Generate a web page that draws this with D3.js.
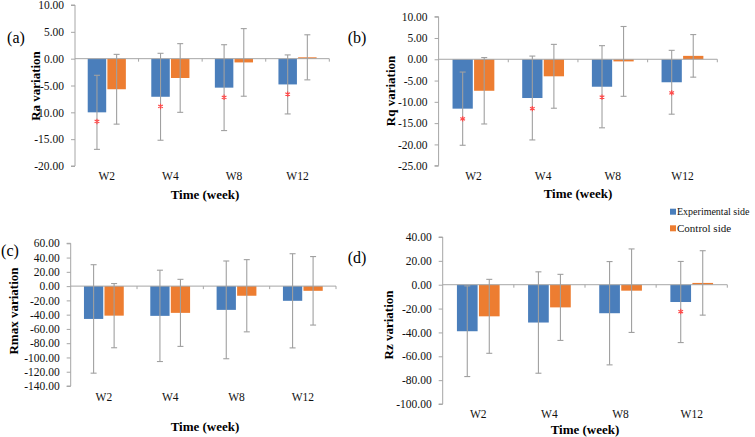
<!DOCTYPE html>
<html>
<head>
<meta charset="utf-8">
<script src="https://cdn.jsdelivr.net/npm/d3@7"></script>
<style>
  html, body { margin: 0; padding: 0; background: #fff; }
  svg { display: block; }
</style>
</head>
<body>
<svg id="chart" width="755" height="437"></svg>
<script>
// ---------- data ----------
const categories = ["W2", "W4", "W8", "W12"];
const seriesNames = ["Experimental side", "Control side"];

const raExp = [-10.0, -7.1, -5.4, -4.8];
const raExpErr = [6.9, 8.1, 8.0, 5.5];
const raCtl = [-5.7, -3.6, -0.7, 0.25];
const raCtlErr = [6.5, 6.4, 6.3, 4.2];
const raStar = [-11.7, -8.9, -7.2, -6.6];

const rqExp = [-11.6, -9.1, -6.45, -5.4];
const rqExpErr = [8.6, 9.85, 9.65, 7.5];
const rqCtl = [-7.4, -4.0, -0.5, 0.8];
const rqCtlErr = [7.8, 7.5, 8.2, 5.0];
const rqStar = [-14.0, -11.6, -8.9, -7.9];

const rmaxExp = [-46, -41.7, -33.3, -20.6];
const rmaxExpErr = [76, 64, 68.5, 66];
const rmaxCtl = [-41.4, -37.5, -13.5, -6.6];
const rmaxCtlErr = [45, 47, 50.6, 48];
const rmaxStar = [null, null, null, null];

const rzExp = [-39, -31.7, -23.9, -14.5];
const rzExpErr = [38, 42.5, 43.3, 34];
const rzCtl = [-26.5, -19, -5, 1.5];
const rzCtlErr = [31, 27.7, 35, 27];
const rzStar = [null, null, null, -22.5];

const raTicks = [10, 5, 0, -5, -10, -15, -20];
const rqTicks = [10, 5, 0, -5, -10, -15, -20, -25];
const rmaxTicks = [60, 40, 20, 0, -20, -40, -60, -80, -100, -120, -140];
const rzTicks = [40, 20, 0, -20, -40, -60, -80, -100];

// ---------- layout ----------
const FONT = '"Liberation Serif", Times';
const colors = { exp: "#4a7ebb", ctl: "#ed7d31" };
const errColor = "#a0a0a0";
const axisColor = "#a6a6a6";

const panels = [
  { tag: "(a)", title: "Ra variation", exp: raExp, expErr: raExpErr, ctl: raCtl, ctlErr: raCtlErr, star: raStar, ticks: raTicks,
    x0: 75, x1: 329.3, yTop: 5, yBot: 166, tagX: 16, tagY: 37, ttlX: 35, ttlY: 86, catY: 176, xTtlX: 205, xTtlY: 194 },
  { tag: "(b)", title: "Rq variation", exp: rqExp, expErr: rqExpErr, ctl: rqCtl, ctlErr: rqCtlErr, star: rqStar, ticks: rqTicks,
    x0: 438.6, x1: 717.3, yTop: 16.7, yBot: 165.7, tagX: 357, tagY: 37, ttlX: 390, ttlY: 91, catY: 175.5, xTtlX: 578, xTtlY: 193 },
  { tag: "(c)", title: "Rmax variation", exp: rmaxExp, expErr: rmaxExpErr, ctl: rmaxCtl, ctlErr: rmaxCtlErr, star: rmaxStar, ticks: rmaxTicks,
    x0: 70.7, x1: 336, yTop: 243.3, yBot: 386, tagX: 10, tagY: 250, ttlX: 13, ttlY: 311, catY: 397, xTtlX: 205, xTtlY: 426 },
  { tag: "(d)", title: "Rz variation", exp: rzExp, expErr: rzExpErr, ctl: rzCtl, ctlErr: rzCtlErr, star: rzStar, ticks: rzTicks,
    x0: 442.7, x1: 727.3, yTop: 237, yBot: 404, tagX: 357, tagY: 257, ttlX: 388, ttlY: 325, catY: 414, xTtlX: 585, xTtlY: 429 }
];

const svg = d3.select("#chart");

panels.forEach(p => {
  const g = svg.append("g");
  const y = d3.scaleLinear()
    .domain([d3.max(p.ticks), d3.min(p.ticks)])
    .range([p.yTop, p.yBot]);
  const x = d3.scaleBand().domain(categories).range([p.x0, p.x1]).padding(0);
  const bw = x.bandwidth();
  const sub = d3.scaleBand().domain(["exp", "ctl"])
    .range([-bw * 0.3, bw * 0.3]).paddingInner(0.06);

  // y axis
  const yAxis = d3.axisLeft(y).tickValues(p.ticks).tickSize(4).tickPadding(7)
    .tickFormat(d => d.toFixed(2));
  const ya = g.append("g").attr("transform", `translate(${p.x0},0)`).call(yAxis);
  ya.attr("font-family", null).attr("font-size", null);
  ya.select(".domain").attr("stroke", axisColor).attr("d", `M-4,${p.yTop}H0V${p.yBot}H-4`);
  ya.selectAll(".tick line").attr("stroke", axisColor);
  ya.selectAll(".tick text").attr("fill", "#111").style("font-size", "11.5px")
    .style("font-family", FONT);

  const rows = categories.map((c, i) => ({
    c,
    exp: p.exp[i], expErr: p.expErr[i],
    ctl: p.ctl[i], ctlErr: p.ctlErr[i],
    star: p.star[i]
  }));

  // bars
  ["exp", "ctl"].forEach(k => {
    g.selectAll(null).data(rows).enter().append("rect")
      .attr("x", d => x(d.c) + bw / 2 + sub(k))
      .attr("width", sub.bandwidth())
      .attr("y", d => y(Math.max(0, d[k])))
      .attr("height", d => Math.abs(y(d[k]) - y(0)))
      .attr("fill", colors[k]);
  });

  // zero line with category ticks
  g.append("line").attr("x1", p.x0).attr("x2", p.x1)
    .attr("y1", y(0)).attr("y2", y(0)).attr("stroke", axisColor).attr("stroke-width", 1);
  categories.forEach(c => {
    const bx = x(c) + bw;
    g.append("line").attr("x1", bx).attr("x2", bx)
      .attr("y1", y(0)).attr("y2", y(0) + 3).attr("stroke", axisColor);
  });

  // error bars
  ["exp", "ctl"].forEach(k => {
    const eg = g.selectAll(null).data(rows).enter().append("g")
      .attr("stroke", errColor).attr("stroke-width", 1.1);
    const cx = d => x(d.c) + bw / 2 + sub(k) + sub.bandwidth() / 2;
    eg.append("line").attr("x1", cx).attr("x2", cx)
      .attr("y1", d => y(d[k] + d[k + "Err"])).attr("y2", d => y(d[k] - d[k + "Err"]));
    eg.append("line").attr("x1", d => cx(d) - 3).attr("x2", d => cx(d) + 3)
      .attr("y1", d => y(d[k] + d[k + "Err"])).attr("y2", d => y(d[k] + d[k + "Err"]));
    eg.append("line").attr("x1", d => cx(d) - 3).attr("x2", d => cx(d) + 3)
      .attr("y1", d => y(d[k] - d[k + "Err"])).attr("y2", d => y(d[k] - d[k + "Err"]));
  });

  // significance asterisks
  const sym = d3.symbol().type(d3.symbolAsterisk).size(20);
  g.selectAll(null).data(rows.filter(d => d.star !== null)).enter().append("path")
    .attr("d", sym)
    .attr("transform", d => `translate(${x(d.c) + bw / 2 + sub("exp") + sub.bandwidth() / 2},${y(d.star)})`)
    .attr("fill", "none").attr("stroke", "#ff4a4a").attr("stroke-width", 1.2);

  // category labels
  g.selectAll(null).data(categories).enter().append("text")
    .attr("x", d => x(d) + bw / 2).attr("y", p.catY)
    .attr("dy", "0.35em").attr("text-anchor", "middle")
    .style("font-size", "11.5px").style("font-family", FONT).attr("fill", "#111").text(d => d);

  // axis titles
  g.append("text").attr("x", p.xTtlX).attr("y", p.xTtlY).attr("dy", "0.35em")
    .attr("text-anchor", "middle").style("font-size", "13px").style("font-weight", "bold")
    .style("font-family", FONT).text("Time (week)");
  g.append("text").attr("transform", `translate(${p.ttlX},${p.ttlY}) rotate(-90)`)
    .attr("dy", "0.35em").attr("text-anchor", "middle")
    .style("font-size", "13px").style("font-weight", "bold").style("font-family", FONT).text(p.title);

  // panel tag
  g.append("text").attr("x", p.tagX).attr("y", p.tagY).attr("dy", "0.35em")
    .attr("text-anchor", "middle").style("font-size", "16px").style("font-family", FONT).text(p.tag);
});

// legend
const legend = svg.append("g");
const legendRight = 751;
["exp", "ctl"].forEach((k, i) => {
  const ly = 211.7 + i * 16.6;
  legend.append("rect").attr("x", 670).attr("y", ly - 3).attr("width", 6).attr("height", 6).attr("fill", colors[k]);
  const t = legend.append("text").attr("x", 677).attr("y", ly).attr("dy", "0.35em")
    .style("font-size", "11px").style("font-family", FONT).attr("fill", "#111").text(seriesNames[i]);
  let fs = 11;
  while (677 + t.node().getComputedTextLength() > legendRight && fs > 8) {
    fs -= 0.25;
    t.style("font-size", fs + "px");
  }
});
</script>
</body>
</html>
